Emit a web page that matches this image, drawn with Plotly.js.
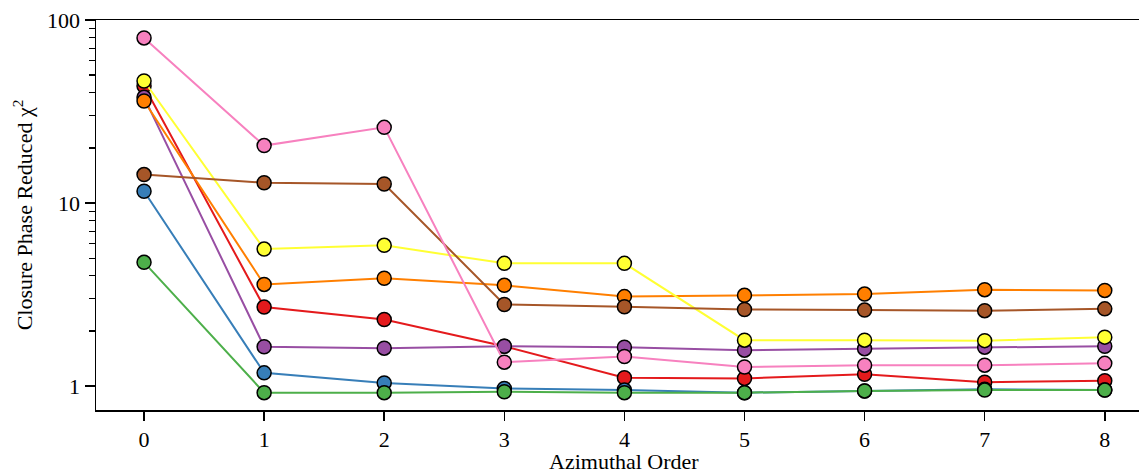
<!DOCTYPE html>
<html>
<head>
<meta charset="utf-8">
<script src="https://cdn.plot.ly/plotly-3.0.1.min.js"></script>
<style>html,body{margin:0;padding:0;background:#fff;}#chart{width:1139px;height:475px;}</style>
</head>
<body>
<div id="chart"></div>
<script>
const orders = [0, 1, 2, 3, 4, 5, 6, 7, 8];
const xTickLabels = ["0", "1", "2", "3", "4", "5", "6", "7", "8"];
const yTickVals = [1, 10, 100];
const yTickLabels = ["1", "10", "100"];
const yMinorVals = [2,3,4,5,6,7,8,9,20,30,40,50,60,70,80,90];

const redVals    = [43.6, 2.70, 2.31, 1.65, 1.11, 1.10, 1.16, 1.05, 1.07];
const blueVals   = [11.6, 1.18, 1.04, 0.97, 0.95, 0.92, 0.94, 0.96, 0.95];
const greenVals  = [4.74, 0.92, 0.92, 0.93, 0.92, 0.92, 0.94, 0.95, 0.95];
const purpleVals = [37.8, 1.64, 1.61, 1.65, 1.63, 1.57, 1.60, 1.63, 1.65];
const orangeVals = [36.1, 3.59, 3.88, 3.55, 3.08, 3.13, 3.18, 3.36, 3.33];
const yellowVals = [46.4, 5.60, 5.87, 4.68, 4.68, 1.78, 1.78, 1.77, 1.85];
const brownVals  = [14.3, 12.9, 12.7, 2.79, 2.71, 2.62, 2.60, 2.58, 2.64];
const pinkVals   = [79.8, 20.6, 25.9, 1.35, 1.45, 1.27, 1.30, 1.30, 1.33];

const seriesList = [
  {name: "red", vals: redVals, color: "#e41a1c"},
  {name: "blue", vals: blueVals, color: "#377eb8"},
  {name: "green", vals: greenVals, color: "#4daf4a"},
  {name: "purple", vals: purpleVals, color: "#984ea3"},
  {name: "orange", vals: orangeVals, color: "#ff7f00"},
  {name: "yellow", vals: yellowVals, color: "#ffff33"},
  {name: "brown", vals: brownVals, color: "#a65628"},
  {name: "pink", vals: pinkVals, color: "#f781bf"}
];

const traces = seriesList.map(s => ({
  x: orders, y: s.vals, name: s.name, type: "scatter", mode: "lines+markers",
  line: {color: s.color, width: 2},
  marker: {color: s.color, size: 14, line: {color: "#000", width: 1.5}},
  showlegend: false, cliponaxis: false
}));

const font = {family: "'Liberation Serif', 'Times New Roman', serif", size: 22, color: "#000"};

const layout = {
  width: 1139, height: 475,
  margin: {l: 96, r: 0, t: 20, b: 65},
  paper_bgcolor: "#fff", plot_bgcolor: "#fff",
  font: font,
  showlegend: false,
  xaxis: {
    range: [-0.4, 8.285],
    tickvals: orders, ticktext: xTickLabels,
    ticks: "outside", ticklen: 9, tickwidth: 1.5, tickcolor: "#000",
    showline: true, linecolor: "#000", linewidth: 1.5, mirror: true,
    showgrid: false, zeroline: false,
    tickfont: font
  },
  yaxis: {
    type: "log",
    range: [-0.131, 2],
    tickvals: yTickVals, ticktext: yTickLabels,
    ticks: "outside", ticklen: 10, tickwidth: 1.5, tickcolor: "#000",
    minor: {tickvals: yMinorVals, ticks: "outside", ticklen: 6, tickwidth: 1.2, tickcolor: "#000", showgrid: false},
    showline: true, linecolor: "#000", linewidth: 1.5, mirror: false,
    showgrid: false, zeroline: false,
    tickfont: font,
    title: {text: "Closure Phase Reduced χ<sup>2</sup>", font: font, standoff: 8}
  },
  annotations: [{
    text: "Azimuthal Order", xref: "paper", yref: "paper",
    x: 0.5063, y: -0.131, xanchor: "center", yanchor: "middle",
    showarrow: false, font: font
  }]
};

Plotly.newPlot("chart", traces, layout, {displayModeBar: false, staticPlot: true});
</script>
</body>
</html>
